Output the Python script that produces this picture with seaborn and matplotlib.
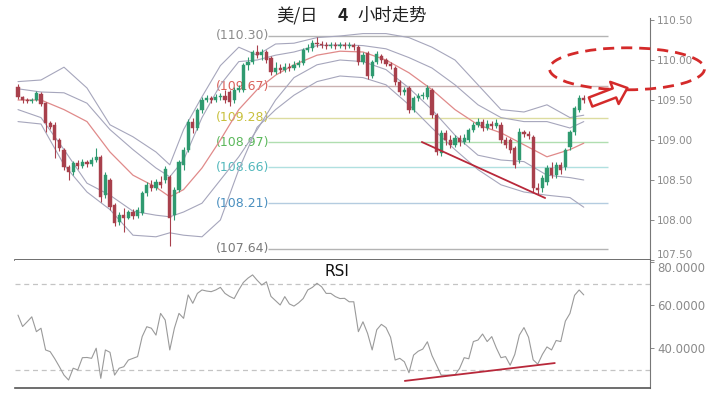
import numpy as np
import pandas as pd
import matplotlib
matplotlib.use("Agg")
import matplotlib.pyplot as plt
from matplotlib.patches import Ellipse, FancyArrowPatch
import seaborn as sns

# ---------------- data ----------------
title_parts = ["美/日", "4", "小时走势"]

opens = [109.66,109.54,109.50,109.49,109.50,109.57,109.46,109.21,109.19,109.00,
         108.88,108.66,108.60,108.71,108.68,108.73,108.70,108.75,108.79,108.31,
         108.50,108.19,107.98,108.06,108.03,108.10,108.05,108.09,108.34,108.44,
         108.40,108.48,108.50,108.54,108.06,108.38,108.69,108.88,109.23,109.15,
         109.38,109.50,109.53,109.50,109.54,109.55,109.60,109.50,109.63,109.63,
         109.94,109.98,110.10,110.06,110.10,110.03,109.85,109.90,109.88,109.91,
         109.90,109.94,109.96,110.13,110.15,110.21,110.20,110.19,110.18,110.19,
         110.18,110.19,110.18,110.19,110.16,109.98,110.09,109.80,109.98,110.05,
         110.00,109.95,109.90,109.73,109.60,109.65,109.38,109.53,109.55,109.54,
         109.63,109.31,108.84,109.09,109.00,108.94,109.03,108.98,109.00,109.13,
         109.19,109.23,109.15,109.20,109.18,109.19,109.00,109.00,108.90,108.75,
         109.10,109.08,109.04,108.40,108.40,108.48,108.65,108.56,108.69,108.66,
         108.91,109.10,109.38,109.53]
closes = [109.54,109.50,109.49,109.50,109.59,109.45,109.21,109.16,109.00,108.90,
          108.66,108.60,108.71,108.68,108.73,108.70,108.75,108.79,108.29,108.56,
          108.16,107.96,108.06,108.03,108.10,108.05,108.13,108.34,108.44,108.40,
          108.48,108.44,108.64,108.03,108.38,108.73,108.88,109.23,109.15,109.38,
          109.50,109.53,109.50,109.54,109.55,109.50,109.48,109.63,109.65,109.94,
          109.98,110.10,110.06,110.10,110.00,109.85,109.90,109.88,109.91,109.90,
          109.94,109.96,110.13,110.15,110.21,110.20,110.19,110.18,110.19,110.18,
          110.19,110.18,110.19,110.16,109.98,110.06,109.80,109.98,110.08,110.00,
          109.95,109.93,109.73,109.60,109.63,109.38,109.53,109.55,109.56,109.65,
          109.31,108.85,109.09,109.00,108.94,109.03,108.98,109.03,109.13,109.19,
          109.23,109.15,109.20,109.18,109.21,109.00,108.94,108.88,108.69,109.10,
          109.08,109.05,108.40,108.38,108.53,108.65,108.56,108.69,108.63,108.88,
          109.10,109.40,109.53,109.50]
highs = [109.70,109.55,109.53,109.53,109.61,109.60,109.48,109.24,109.23,109.03,
         108.90,108.69,108.74,108.75,108.76,108.75,108.79,108.90,108.81,108.60,
         108.53,108.21,108.10,108.15,108.13,108.14,108.16,108.36,108.48,108.50,
         108.51,108.55,108.68,108.56,108.41,108.75,108.91,109.26,109.28,109.40,
         109.54,109.56,109.55,109.58,109.59,109.63,109.63,109.66,109.69,109.96,
         110.04,110.13,110.19,110.14,110.13,110.05,109.98,109.95,109.96,109.96,
         109.99,110.00,110.15,110.20,110.25,110.29,110.24,110.23,110.23,110.23,
         110.23,110.23,110.23,110.21,110.19,110.10,110.11,110.00,110.11,110.08,
         110.03,109.98,109.93,109.75,109.66,109.68,109.55,109.59,109.60,109.69,
         109.65,109.34,109.13,109.13,109.06,109.06,109.06,109.08,109.15,109.23,
         109.28,109.26,109.25,109.24,109.26,109.23,109.04,109.03,108.93,109.15,
         109.13,109.11,109.06,108.46,108.56,108.69,108.73,108.73,108.73,108.90,
         109.13,109.43,109.56,109.56]
lows = [109.51,109.46,109.46,109.46,109.49,109.43,109.10,109.14,108.78,108.86,
        108.63,108.50,108.56,108.64,108.65,108.66,108.68,108.73,108.23,108.28,
        108.13,107.93,107.94,107.85,108.01,108.01,108.03,108.06,108.30,108.36,
        108.38,108.40,108.46,107.67,108.00,108.35,108.63,108.85,109.09,109.13,
        109.34,109.48,109.46,109.48,109.50,109.46,109.43,109.46,109.60,109.60,
        109.88,109.95,110.03,110.00,109.96,109.81,109.83,109.84,109.85,109.86,
        109.88,109.91,109.94,110.10,110.11,110.16,110.15,110.14,110.15,110.14,
        110.15,110.14,110.15,110.13,109.94,109.95,109.76,109.78,109.95,109.96,
        109.93,109.89,109.69,109.56,109.56,109.34,109.35,109.49,109.51,109.51,
        109.28,108.81,108.80,108.94,108.90,108.91,108.93,108.95,108.98,109.10,
        109.16,109.11,109.13,109.14,109.15,108.96,108.90,108.84,108.65,108.71,
        109.04,109.01,108.35,108.32,108.35,108.44,108.52,108.52,108.58,108.63,
        108.88,109.06,109.35,109.46]

rsi = [55.3,50.0,52.2,54.5,47.6,49.2,39.1,38.3,35.0,31.3,
       27.4,25.1,30.6,29.8,35.5,35.6,35.2,39.9,25.9,39.1,
       38.0,27.4,30.6,31.3,34.4,35.2,36.0,45.3,49.9,49.2,
       46.0,56.1,53.0,39.1,49.2,56.1,53.8,64.7,60.8,65.4,
       67.0,66.5,66.2,67.0,68.2,65.4,64.0,63.0,67.0,70.5,
       72.5,74.0,71.5,69.3,70.8,64.0,62.0,60.0,63.9,60.5,
       59.5,61.0,63.0,67.0,68.2,70.1,68.5,65.4,65.4,63.9,
       63.0,63.1,61.5,61.5,47.6,52.2,46.8,39.1,48.5,51.0,
       49.5,45.0,34.4,35.2,33.6,28.5,36.7,38.5,39.5,42.9,
       36.5,32.0,27.4,27.4,27.4,27.5,30.5,35.5,35.0,43.0,
       43.7,46.5,43.0,45.3,40.0,35.5,36.0,32.0,37.0,46.0,
       49.5,45.0,34.5,32.5,37.0,40.5,39.1,43.5,43.0,52.5,
       56.1,64.5,67.0,64.7]

band_bars = [0,5,10,15,20,25,30,33,36,40,44,48,52,56,60,65,70,75,80,85,90,95,100,105,110,115,120,123]
upper_outer = [109.73,109.75,109.91,109.65,109.19,109.04,108.85,108.69,109.13,109.54,109.93,110.16,110.06,110.20,
               110.21,110.28,110.30,110.33,110.33,110.28,110.16,110.00,109.69,109.38,109.35,109.44,109.28,109.31]
upper_inner = [109.64,109.60,109.59,109.46,109.13,108.88,108.65,108.54,108.75,109.28,109.69,109.98,110.00,110.06,
               110.10,110.18,110.19,110.18,110.14,110.03,109.90,109.69,109.44,109.28,109.23,109.23,109.15,109.23]
middle_line = [109.50,109.50,109.38,109.23,108.85,108.56,108.41,108.29,108.38,108.65,109.00,109.38,109.63,109.81,
               109.94,110.06,110.11,110.10,110.00,109.84,109.63,109.38,109.19,109.09,108.94,108.79,108.88,108.96]
lower_inner = [109.38,109.28,108.88,108.46,108.31,108.11,108.06,108.04,108.10,108.21,108.50,108.79,109.13,109.50,
               109.78,109.94,110.00,109.98,109.88,109.65,109.38,109.06,108.81,108.75,108.73,108.56,108.53,108.50]
lower_outer = [109.23,109.20,108.69,108.35,108.13,107.81,107.79,107.84,107.81,107.79,108.00,108.63,109.16,109.38,
               109.56,109.73,109.80,109.78,109.69,109.44,109.15,108.88,108.63,108.44,108.35,108.31,108.28,108.16]

fib_levels = [110.30, 109.67, 109.28, 108.97, 108.66, 108.21, 107.64]
fib_labels = ["(110.30)", "(109.67)", "(109.28)", "(108.97)", "(108.66)", "(108.21)", "(107.64)"]
fib_text_colors = ["#8c8c8c", "#d9605a", "#c8c03c", "#5cb85c", "#52b8bc", "#4a8fbf", "#7a7a7a"]
fib_line_colors = ["#b4b4b4", "#c9b0b0", "#dcdca0", "#b0deb0", "#b0e0e0", "#b4cce0", "#b4b4b4"]

price_ticks = [107.5, 108.0, 108.5, 109.0, 109.5, 110.0, 110.5]
rsi_ticks = [40, 60, 80]
rsi_levels = [70, 30]

price_trend_bars = [87.8, 114.6]
price_trend_vals = [108.975, 108.275]
rsi_trend_bars = [84.1, 116.7]
rsi_trend_vals = [24.7, 33.0]

# ---------------- figure ----------------
sns.set_theme(style="white")
plt.rcParams['font.family'] = ['DejaVu Sans', 'Noto Sans CJK SC']

W, H = 708, 408
fig = plt.figure(figsize=(W / 100, H / 100), dpi=100)
fig.patch.set_facecolor("white")

ax = fig.add_axes([15 / W, (H - 260) / H, 635 / W, 242 / H])
ax2 = fig.add_axes([15 / W, (H - 388) / H, 635 / W, 128 / H])

df = pd.DataFrame({"bar": np.arange(len(closes)), "open": opens, "high": highs,
                   "low": lows, "close": closes})
df["bull"] = df["close"] >= df["open"]
up_col, dn_col = "#2f9a70", "#a8404c"
cols = np.where(df["bull"], up_col, dn_col)

ax.vlines(df["bar"], df["low"], df["high"], colors=cols, lw=0.8, zorder=4)
body_lo = np.minimum(df["open"], df["close"])
body_h = np.maximum(np.abs(df["close"] - df["open"]), 0.008)
ax.bar(df["bar"], body_h, bottom=body_lo, width=0.7, color=cols, edgecolor=cols, lw=0.3, zorder=5)

bands = pd.DataFrame({"bar": band_bars, "uo": upper_outer, "ui": upper_inner,
                      "mid": middle_line, "li": lower_inner, "lo": lower_outer})
band_col = "#a6a6bc"
for key in ["uo", "ui", "li", "lo"]:
    sns.lineplot(data=bands, x="bar", y=key, ax=ax, color=band_col, lw=0.8, legend=False, zorder=3)
sns.lineplot(data=bands, x="bar", y="mid", ax=ax, color="#e08a8a", lw=0.9, legend=False, zorder=3)

for lvl, lab, tc, lc in zip(fib_levels, fib_labels, fib_text_colors, fib_line_colors):
    ax.hlines(lvl, 54.4, 128.3, colors=lc, lw=1.0, zorder=2)
    ax.text(48.9, lvl, lab, color=tc, fontsize=9, ha="center", va="center", zorder=2)

ax.plot(price_trend_bars, price_trend_vals, color="#b8283a", lw=1.3, zorder=6)

xmin, xmax = -0.65, 137.4
ax.set_xlim(xmin, xmax)
ax.set_ylim(107.5, 110.525)
ax.set_xticks([])
ax.yaxis.tick_right()
ax.set_yticks(price_ticks)
ax.set_yticklabels([f"{t:.2f}" for t in price_ticks])
ax.tick_params(axis="y", direction="out", length=3, width=0.6, colors="#777777",
               labelsize=7.5, labelcolor="#8a8a8a", pad=2, right=True, left=False)
ax.get_yticklabels()[0].set_va("bottom")
ax.set_xlabel("")
ax.set_ylabel("")
for s in ["left", "top"]:
    ax.spines[s].set_visible(False)
ax.spines["right"].set_color("#777777")
ax.spines["right"].set_linewidth(0.8)
ax.spines["bottom"].set_color("#555555")
ax.spines["bottom"].set_linewidth(1.2)

# ellipse and arrow
ell = Ellipse((132.4, 109.89), width=33.7, height=0.525, fill=False, edgecolor="#d42a2a",
              lw=2.0, ls=(0, (4, 2.5)), clip_on=False, zorder=7)
ax.add_patch(ell)
arrow = FancyArrowPatch((588 / W, 1 - 103 / H), (630 / W, 1 - 87 / H),
                        transform=fig.transFigure,
                        arrowstyle="simple,head_length=1.0,head_width=1.7,tail_width=0.7",
                        mutation_scale=10, facecolor="white", edgecolor="#d42a2a", lw=1.8, zorder=8)
fig.add_artist(arrow)

# RSI panel
rsi_df = pd.DataFrame({"bar": np.arange(len(rsi)), "rsi": rsi})
sns.lineplot(data=rsi_df, x="bar", y="rsi", ax=ax2, color="#9a9a9a", lw=0.8, legend=False, zorder=3)
for lv in rsi_levels:
    ax2.axhline(lv, color="#c4c4c4", lw=0.9, ls=(0, (4, 3)), zorder=1)
ax2.plot(rsi_trend_bars, rsi_trend_vals, color="#b8283a", lw=1.3, zorder=6)
ax2.text((337 - 15) / 635, 1 - 12 / 128, "RSI", transform=ax2.transAxes, fontsize=11,
         ha="center", va="center", color="#111111")
ax2.set_xlim(xmin, xmax)
ax2.set_ylim(21.4, 80.93)
ax2.set_xticks([])
ax2.yaxis.tick_right()
ax2.set_yticks(rsi_ticks)
ax2.set_yticklabels([f"{t:.4f}" for t in rsi_ticks])
ax2.tick_params(axis="y", direction="out", length=3, width=0.6, colors="#777777",
                labelsize=8.5, labelcolor="#8a8a8a", pad=2, right=True, left=False)
ax2.get_yticklabels()[-1].set_va("top")
ax2.set_xlabel("")
ax2.set_ylabel("")
for s in ["left", "top"]:
    ax2.spines[s].set_visible(False)
ax2.spines["right"].set_color("#777777")
ax2.spines["right"].set_linewidth(0.8)
ax2.spines["bottom"].set_color("#555555")
ax2.spines["bottom"].set_linewidth(1.2)

cjk = ["Noto Sans CJK SC", "DejaVu Sans"]
fig.text(297 / W, 1 - 16 / H, title_parts[0], ha="center", va="center", fontsize=12.5,
         color="#222222", family=cjk)
fig.text(343 / W, 1 - 16 / H, title_parts[1], ha="center", va="center", fontsize=12.5,
         color="#222222", family=cjk, fontweight="bold")
fig.text(392 / W, 1 - 16 / H, title_parts[2], ha="center", va="center", fontsize=12.5,
         color="#222222", family=cjk)

fig.savefig("out.png", dpi=100, facecolor="white")
